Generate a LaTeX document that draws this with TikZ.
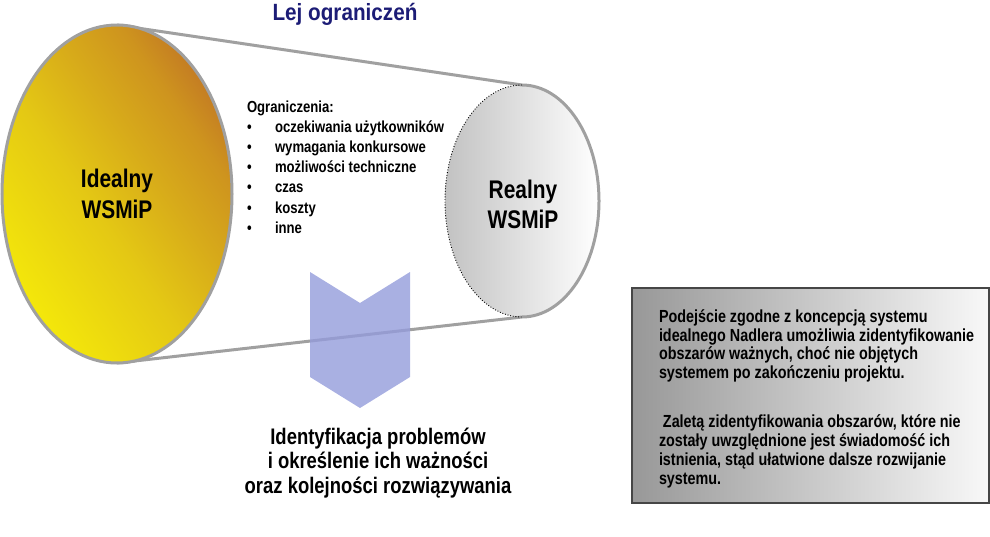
\documentclass[tikz,border=0pt]{standalone}
\usepackage{fontspec}
\setmainfont{Liberation Sans}[FakeStretch=0.82]
\newfontfamily\titlefont{Liberation Sans}[FakeStretch=0.88]
\usetikzlibrary{shapes.geometric}
\definecolor{navy}{RGB}{28,28,118}
\definecolor{ygold}{RGB}{244,232,10}
\definecolor{y2gold}{RGB}{228,200,20}
\definecolor{mgold}{RGB}{215,170,26}
\definecolor{m2gold}{RGB}{206,148,30}
\definecolor{obrown}{RGB}{194,120,36}
\definecolor{funnelgray}{RGB}{160,160,160}
\definecolor{chev}{RGB}{148,156,219}
\definecolor{boxleft}{RGB}{152,152,152}
\definecolor{boxright}{RGB}{248,248,248}
\definecolor{boxborder}{RGB}{70,70,70}
\definecolor{ellgray}{RGB}{194,194,194}
\pgfdeclareverticalshading{idealshade}{100bp}{color(0bp)=(ygold); color(25bp)=(ygold); color(45bp)=(y2gold); color(58bp)=(mgold); color(68bp)=(m2gold); color(76bp)=(obrown); color(100bp)=(obrown)}
\begin{document}
\begin{tikzpicture}[x=1pt,y=-1pt,
  txt/.style={inner sep=0pt, outer sep=0pt, anchor=base},
  txtw/.style={inner sep=0pt, outer sep=0pt, anchor=base west},
  bigtxt/.style={txt, font=\bfseries\fontsize{25.5}{31}\selectfont},
  listtxt/.style={txtw, font=\bfseries\fontsize{16}{20}\selectfont},
  boxtxt/.style={txtw, font=\bfseries\fontsize{17.5}{18.2}\selectfont},
  bottxt/.style={txt, font=\bfseries\fontsize{22.5}{25}\selectfont},
  funnel/.style={draw=funnelgray, line width=3pt, line join=round},
  chevshape/.style={fill=chev, opacity=0.8}]
\useasboundingbox (0,0) rectangle (990,536);

% right ellipse (real)
\node[ellipse, inner sep=0pt, outer sep=0pt, minimum width=154pt, minimum height=232pt,
      left color=ellgray, right color=white] (R) at (522,201) {};

% funnel outline
\draw[funnel] (117,25) coordinate (Ltop) -- (R.north)
  arc[start angle=90, end angle=-90, x radius=77pt, y radius=116pt]
  -- (117,363) coordinate (Lbot);
\draw[black, line width=0.9pt, dash pattern=on 0.9pt off 1.8pt]
  (R.north) arc[start angle=90, end angle=270, x radius=77pt, y radius=116pt];

% left ellipse (ideal)
\node[ellipse, inner sep=0pt, outer sep=0pt, minimum width=230pt, minimum height=338pt,
      shading=idealshade, shading angle=-55,
      draw=funnelgray, line width=3pt] (L) at (117,194) {};

% chevron
\fill[chevshape] (310,272) -- (360,303) -- (410,272) -- (410,377) -- (360,408) -- (310,377) -- cycle;

% title
\node[txt, text=navy, font=\titlefont\bfseries\fontsize{23.5}{28}\selectfont] (title) at (345,20) {Lej ograniczeń};

% ellipse labels
\node[bigtxt] (id1) at (117,187) {Idealny};
\node[bigtxt] (id2) at (117,218) {WSMiP};
\node[bigtxt] (re1) at (523,198) {Realny};
\node[bigtxt] (re2) at (523,228) {WSMiP};

% list
\node[listtxt] (lhead) at (247,112) {Ograniczenia:};
\foreach \t [count=\i] in {oczekiwania użytkowników, wymagania konkursowe, możliwości techniczne, czas, koszty, inne}{
  \node[listtxt] (bul\i) at (247,112+20.2*\i) {•};
  \node[listtxt] (item\i) at (275,112+20.2*\i) {\t};
}

% bottom text
\node[bottxt] (b1) at (378,444) {Identyfikacja problemów};
\node[bottxt] (b2) at (378,468.5) {i określenie ich ważności};
\node[bottxt] (b3) at (378,493) {oraz kolejności rozwiązywania};

% text box
\path[left color=boxleft, right color=boxright, draw=boxborder, line width=1.5pt]
  (632,288) rectangle (989,503);
\node[boxtxt] (p1) at (659,322.5) {Podejście zgodne z koncepcją systemu};
\node[boxtxt] (p2) at (659,341) {idealnego Nadlera umożliwia zidentyfikowanie};
\node[boxtxt] (p3) at (659,359.5) {obszarów ważnych, choć nie objętych};
\node[boxtxt] (p4) at (659,378) {systemem po zakończeniu projektu.};
\node[boxtxt] (q1) at (659,427) {\ Zaletą zidentyfikowania obszarów, które nie};
\node[boxtxt] (q2) at (659,446) {zostały uwzględnione jest świadomość ich};
\node[boxtxt] (q3) at (659,465) {istnienia, stąd ułatwione dalsze rozwijanie};
\node[boxtxt] (q4) at (659,484) {systemu.};
\end{tikzpicture}
\end{document}
